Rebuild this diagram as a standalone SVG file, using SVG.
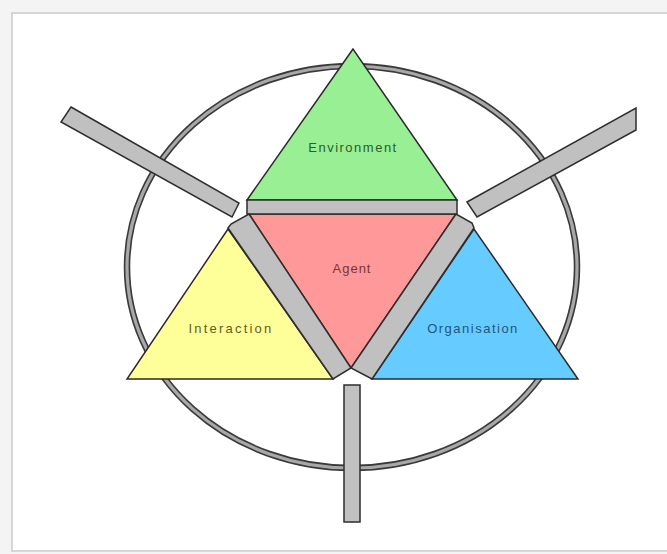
<svg xmlns="http://www.w3.org/2000/svg" width="667" height="554" viewBox="0 0 667 554">
<style>
.tri{stroke:#2a2a2a;stroke-width:1.5;stroke-linejoin:miter}
.bar{fill:#c0c0c0;stroke:#2e2e2e;stroke-width:1.5;stroke-linejoin:miter}
.lbl{font-family:"Liberation Sans",Arial,sans-serif;font-size:13px;text-anchor:middle}
</style>
<rect x="0" y="0" width="667" height="554" fill="#f4f4f4"/>
<rect x="12" y="13" width="700" height="538" fill="#ffffff" stroke="#d6d6d6" stroke-width="2"/>
<g id="ring">
<ellipse cx="352" cy="267" rx="225" ry="201" fill="none" stroke="#3a3a3a" stroke-width="6.5"/>
<ellipse cx="352" cy="267" rx="225" ry="201" fill="none" stroke="#a8a8a8" stroke-width="3.2"/>
</g>
<g id="environment">
<polygon class="tri" points="353,49 247,200 457,200" fill="#99ef93"/>
<text class="lbl" x="353" y="152" fill="#2c5e2c" letter-spacing="1.5">Environment</text>
</g>
<g id="agent">
<polygon class="tri" points="249,214 456,214 351,368" fill="#ff9999"/>
<text class="lbl" x="352" y="273" fill="#7a3434" letter-spacing="1">Agent</text>
</g>
<g id="interaction">
<polygon class="tri" points="228,229 127,379 333,379" fill="#ffff99"/>
<text class="lbl" x="231" y="333" fill="#5e5e22" letter-spacing="2.2">Interaction</text>
</g>
<g id="organisation">
<polygon class="tri" points="474,229 372,379 578,379" fill="#66ccff"/>
<text class="lbl" x="473" y="333" fill="#22557e" letter-spacing="1.5">Organisation</text>
</g>
<g id="connectors">
<polygon class="bar" points="247,200 457,200 457,214 247,214"/>
<polygon class="bar" points="249,214 351,368 333,379 228,228 231,224"/>
<polygon class="bar" points="456,214 351,368 372,379 474,228 472,223"/>
<polygon class="bar" points="71,107 239,203 232,217 61,122"/>
<polygon class="bar" points="467,202 636,108 636,130 477,217"/>
<rect class="bar" x="344" y="385" width="16" height="137"/>
</g>
</svg>
